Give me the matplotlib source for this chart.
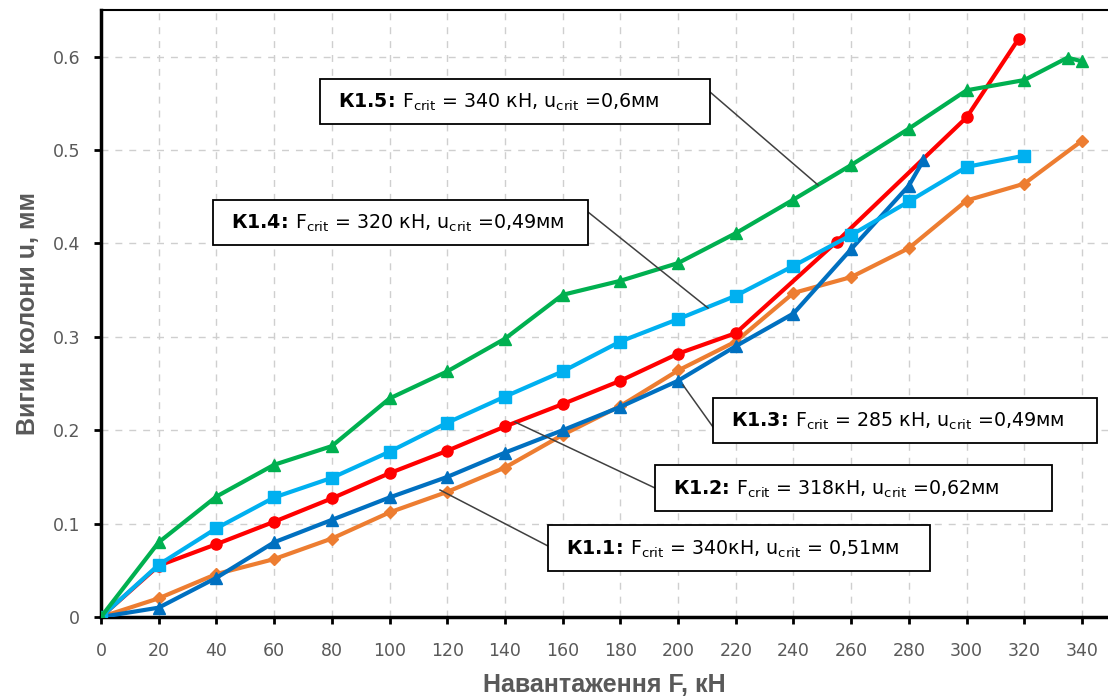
import numpy as np
import matplotlib
matplotlib.use("Agg")
import matplotlib.pyplot as plt
from matplotlib.patches import Rectangle

# Дані з графіка (навантаження F, кН -> прогин u, мм)
F_k11 = [0, 20, 40, 60, 80, 100, 120, 140, 160, 180, 200, 220, 240, 260, 280, 300, 320, 340]
u_k11 = [0, 0.02, 0.046, 0.062, 0.084, 0.112, 0.134, 0.16, 0.195, 0.226, 0.264, 0.295, 0.347, 0.364, 0.395, 0.446, 0.464, 0.51]

F_k12 = [0, 20, 40, 60, 80, 100, 120, 140, 160, 180, 200, 220, 255, 300, 318]
u_k12 = [0, 0.055, 0.078, 0.102, 0.127, 0.154, 0.178, 0.204, 0.228, 0.253, 0.282, 0.304, 0.402, 0.535, 0.619]

F_k13 = [0, 20, 40, 60, 80, 100, 120, 140, 160, 180, 200, 220, 240, 260, 280, 285]
u_k13 = [0, 0.01, 0.042, 0.08, 0.104, 0.128, 0.15, 0.176, 0.2, 0.225, 0.253, 0.29, 0.325, 0.394, 0.462, 0.489]

F_k14 = [0, 20, 40, 60, 80, 100, 120, 140, 160, 180, 200, 220, 240, 260, 280, 300, 320]
u_k14 = [0, 0.056, 0.095, 0.128, 0.149, 0.177, 0.208, 0.236, 0.263, 0.295, 0.319, 0.344, 0.376, 0.409, 0.445, 0.482, 0.494]

F_k15 = [0, 20, 40, 60, 80, 100, 120, 140, 160, 180, 200, 220, 240, 260, 280, 300, 320, 335, 340]
u_k15 = [0, 0.08, 0.129, 0.163, 0.183, 0.234, 0.263, 0.298, 0.345, 0.36, 0.379, 0.411, 0.447, 0.484, 0.523, 0.564, 0.575, 0.599, 0.595]

x_ticks = list(range(0, 341, 20))
y_ticks = [0, 0.1, 0.2, 0.3, 0.4, 0.5, 0.6]
y_tick_labels = ["0", "0.1", "0.2", "0.3", "0.4", "0.5", "0.6"]

# \! прибирає зайві відступи навколо двокрапки в mathtext
labels = [
    r"$\mathbf{К1.1}\!\mathbf{:}\!$ F$_{\mathrm{crit}}$ = 340кН, u$_{\mathrm{crit}}$ = 0,51мм",
    r"$\mathbf{К1.2}\!\mathbf{:}\!$ F$_{\mathrm{crit}}$ = 318кН, u$_{\mathrm{crit}}$ =0,62мм",
    r"$\mathbf{К1.3}\!\mathbf{:}\!$ F$_{\mathrm{crit}}$ = 285 кН, u$_{\mathrm{crit}}$ =0,49мм",
    r"$\mathbf{К1.4}\!\mathbf{:}\!$ F$_{\mathrm{crit}}$ = 320 кН, u$_{\mathrm{crit}}$ =0,49мм",
    r"$\mathbf{К1.5}\!\mathbf{:}\!$ F$_{\mathrm{crit}}$ = 340 кН, u$_{\mathrm{crit}}$ =0,6мм",
]

W, H = 1108, 697
fig = plt.figure(figsize=(W / 100, H / 100), dpi=100)
ax = fig.add_axes([101 / W, 80 / H, 1007 / W, 607 / H])

# серії
ax.plot(F_k11, u_k11, color="#ED7D31", lw=3, marker="D", ms=6.5, zorder=3)
ax.plot(F_k12, u_k12, color="#FF0000", lw=3, marker="o", ms=8, zorder=3)
ax.plot(F_k13, u_k13, color="#0070C0", lw=3, marker="^", ms=9, zorder=3)
ax.plot(F_k14, u_k14, color="#00B0F0", lw=3, marker="s", ms=8, zorder=3)
ax.plot(F_k15, u_k15, color="#00B050", lw=3, marker="^", ms=9, zorder=3)

ax.set_xlim(0, 349)
ax.set_ylim(0, 0.65)
ax.set_xticks(x_ticks)
ax.set_yticks(y_ticks)
ax.set_yticklabels(y_tick_labels)
ax.tick_params(direction="out", length=5, width=2, color="black",
               labelsize=12.5, labelcolor="#595959")
ax.tick_params(axis="x", pad=13)
ax.tick_params(axis="y", pad=10)
ax.grid(True, color="#cfcfcf", lw=1, linestyle=(0, (5, 5)), zorder=0)

for s in ["left", "bottom"]:
    ax.spines[s].set_linewidth(2.5)
ax.spines["top"].set_linewidth(1.5)
ax.spines["right"].set_visible(False)

ax.set_xlabel("Навантаження F, кН", fontsize=18, fontweight="bold", color="#595959",
              family="Liberation Sans", labelpad=9)
ax.set_ylabel("Вигин колони u, мм", fontsize=18, fontweight="bold", color="#595959",
              family="Liberation Sans", labelpad=9)


def px(x, y):
    # піксель еталона -> частка фігури
    return x / W, 1 - y / H


# рамки підписів (пікселі: ліво, верх, право, низ) і виноски
boxes = [(548, 525, 930, 571), (655, 465, 1052, 511), (713, 398, 1097, 443),
         (213, 200, 588, 245), (320, 79, 710, 124)]
leaders = [
    [(548, 546), (440, 490)],
    [(655, 488), (515, 422)],
    [(713, 427), (683, 385)],
    [(588, 212), (708, 308)],
    [(710, 92), (818, 185)],
]
for txt, (l, t, r, b), seg in zip(labels, boxes, leaders):
    (x0, y0), (x1, y1) = [px(*p) for p in seg]
    ax.plot([x0, x1], [y0, y1], color="#404040", lw=1.1, zorder=4,
            transform=fig.transFigure, clip_on=False)
    bl, bb = px(l, b)
    bw, bh = (r - l) / W, (b - t) / H
    ax.add_patch(Rectangle((bl, bb), bw, bh, transform=fig.transFigure, fc="white",
                           ec="black", lw=1.3, zorder=5, clip_on=False))
    tx, ty = px(l + 18, (t + b) / 2 + 1)
    ax.text(tx, ty, txt, fontsize=13.7, ha="left", va="center", color="black",
            transform=fig.transFigure, zorder=6)

fig.savefig("out.png", dpi=100)
